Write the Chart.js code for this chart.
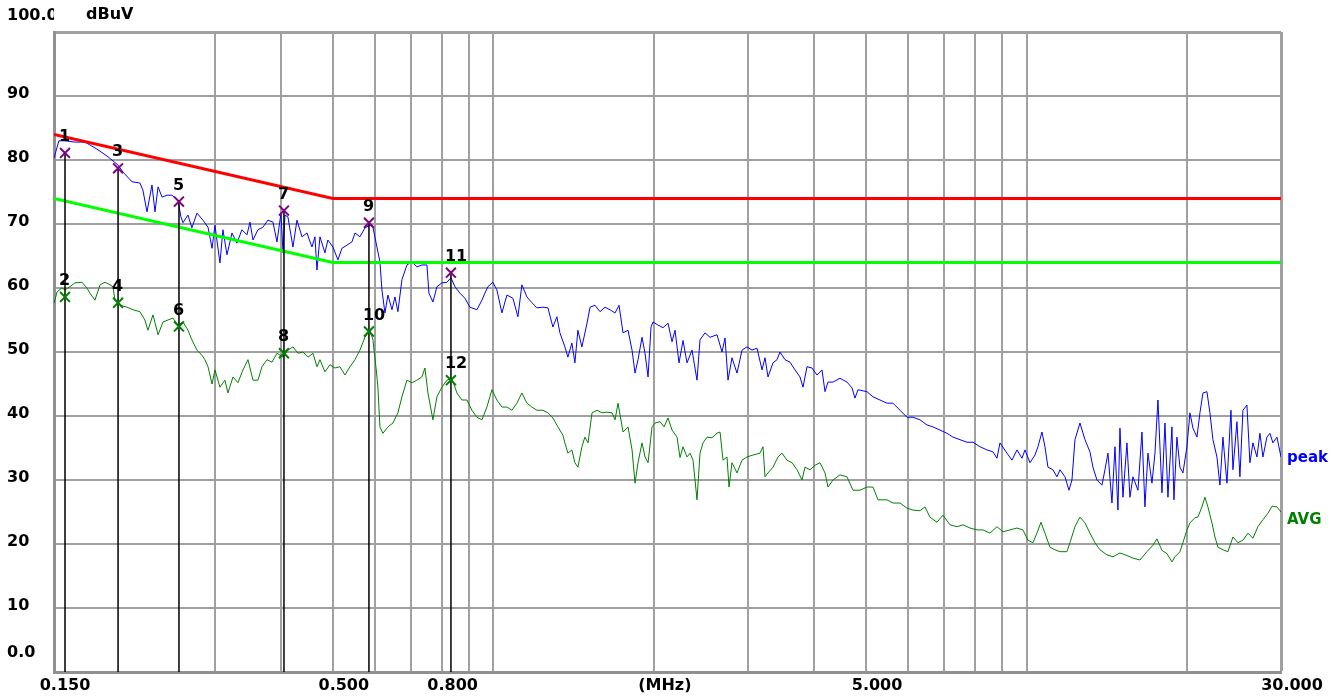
<!DOCTYPE html>
<html>
<head>
<meta charset="utf-8">
<title>Conducted emission 0.15 - 30 MHz</title>
<script src="https://cdn.jsdelivr.net/npm/chart.js@4.4.1/dist/chart.umd.min.js"></script>
<style>
  html, body { margin: 0; padding: 0; background: #ffffff; }
  #wrap { width: 1344px; height: 697px; position: relative; }
</style>
</head>
<body>
<div id="wrap"><canvas id="emiChart"></canvas></div>
<script>
// axis ticks
const xTickValues = [0.15, 0.3, 0.4, 0.5, 0.6, 0.7, 0.8, 0.9, 1, 2, 3, 4, 5, 6, 7, 8, 9, 10, 20, 30];
const xTickLabels = ['0.150', '', '', '0.500', '', '', '0.800', '', '', '(MHz)', '', '', '5.000', '', '', '', '', '', '', '30.000'];
const yTickLabels = ['0.0', '10', '20', '30', '40', '50', '60', '70', '80', '90', '100.0'];
const unitLabel = 'dBuV';

// limit lines (MHz / dBuV)
const limitFreq = [0.15, 0.5, 30];
const qpLimit = [84, 74, 74];
const avLimit = [74, 64, 64];

// peak detector trace
const peakFreq = [
  0.150, 0.1532, 0.1573, 0.1642, 0.1715, 0.1806, 0.1894, 0.1978, 0.2021, 0.2101,
  0.2174, 0.2202, 0.2241, 0.2290, 0.2320, 0.2351, 0.2392, 0.2443, 0.2496, 0.2562,
  0.2595, 0.2618, 0.2675, 0.2721, 0.2781, 0.2854, 0.2917, 0.2968, 0.3006, 0.3071,
  0.3111, 0.3166, 0.3235, 0.3305, 0.3377, 0.3451, 0.3496, 0.3542, 0.3619, 0.3698,
  0.3778, 0.3861, 0.3929, 0.3997, 0.4032, 0.4067, 0.4119, 0.4209, 0.4283, 0.4377,
  0.4472, 0.4569, 0.4629, 0.4669, 0.4730, 0.4833, 0.4895, 0.5002, 0.5112, 0.5201,
  0.5315, 0.5431, 0.5502, 0.5621, 0.5744, 0.5869, 0.5946, 0.6049, 0.6128, 0.6181,
  0.6262, 0.6344, 0.6455, 0.6539, 0.6623, 0.6739, 0.6886, 0.7037, 0.7189, 0.7346,
  0.7507, 0.7572, 0.7704, 0.7838, 0.8009, 0.8184, 0.8327, 0.8472, 0.8656, 0.8845,
  0.9038, 0.9315, 0.9519, 0.9643, 0.9768, 0.9981, 1.0155, 1.0377, 1.0604, 1.0882,
  1.1119, 1.1313, 1.1560, 1.1813, 1.2070, 1.2387, 1.2657, 1.2933, 1.3158, 1.3330,
  1.3621, 1.3798, 1.4039, 1.4222, 1.4407, 1.4658, 1.4986, 1.5182, 1.5513, 1.5852,
  1.6198, 1.6552, 1.6913, 1.7208, 1.7507, 1.7889, 1.8201, 1.8438, 1.8678, 1.9004,
  1.9251, 1.9503, 1.9757, 1.9929, 2.0363, 2.0808, 2.1261, 2.1632, 2.1914, 2.2295,
  2.2684, 2.3079, 2.3583, 2.4096, 2.4411, 2.4944, 2.5488, 2.6270, 2.6844, 2.7194,
  2.7548, 2.8028, 2.8639, 2.9265, 2.9903, 3.0556, 3.1222, 3.1905, 3.2320, 3.2741,
  3.3456, 3.4038, 3.4482, 3.5235, 3.6003, 3.6789, 3.7592, 3.8082, 3.8745, 3.9592,
  4.0454, 4.1338, 4.1877, 4.2422, 4.3348, 4.4678, 4.6048, 4.7054, 4.7667, 4.8289,
  5.0201, 5.1520, 5.3100, 5.4728, 5.6166, 5.7889, 5.9664, 6.1231, 6.3110, 6.5045,
  6.6753, 6.8802, 7.0911, 7.2774, 7.5007, 7.7307, 7.9337, 8.1771, 8.4278, 8.6492,
  8.7997, 8.9146, 9.1879, 9.3887, 9.5932, 9.8029, 9.9307, 10.147, 10.369, 10.504,
  10.687, 10.826, 10.967, 11.206, 11.402, 11.551, 11.803, 12.008, 12.165, 12.323,
  12.592, 12.867, 13.148, 13.319, 13.551, 13.847, 14.028, 14.211, 14.458, 14.647,
  14.837, 14.966, 15.161, 15.425, 15.626, 15.830, 16.176, 16.458, 16.672, 16.889,
  17.184, 17.408, 17.634, 17.941, 18.175, 18.412, 18.733, 18.896, 19.141, 19.391,
  19.644, 19.986, 20.247, 20.511, 20.868, 21.140, 21.416, 21.788, 22.073, 22.361,
  22.750, 23.047, 23.348, 23.754, 24.168, 24.378, 24.801, 25.125, 25.453, 25.896,
  26.234, 26.576, 27.038, 27.391, 27.748, 28.231, 28.600, 28.973, 29.477, 30.0
];
const peakLevel = [
  80.3, 83.0, 83.0, 82.8, 82.8, 81.7, 80.5, 79.2, 78.1, 76.6,
  76.4, 75.3, 71.9, 76.1, 71.9, 75.8, 74.2, 74.5, 74.5, 73.7,
  71.1, 70.2, 71.4, 69.4, 71.7, 70.6, 69.5, 66.2, 69.8, 63.9,
  69.1, 65.2, 68.6, 67.0, 69.1, 68.3, 70.3, 67.5, 69.1, 69.5,
  70.6, 70.3, 67.2, 71.7, 65.5, 71.4, 71.1, 66.4, 70.6, 68.0,
  68.6, 66.4, 68.0, 62.8, 68.0, 65.5, 67.5, 66.4, 64.4, 66.2,
  66.7, 67.2, 68.6, 68.0, 69.4, 69.8, 69.5, 66.4, 64.1, 59.7,
  56.1, 58.9, 56.6, 58.6, 56.3, 61.3, 63.6, 64.1, 63.3, 63.6,
  63.6, 59.2, 57.8, 60.2, 60.8, 60.9, 61.6, 60.2, 59.2, 58.4,
  57.0, 56.6, 58.1, 59.2, 60.2, 60.9, 59.7, 56.1, 58.9, 58.4,
  55.5, 60.5, 58.6, 57.7, 56.9, 57.0, 56.9, 53.9, 55.5, 53.0,
  50.8, 49.2, 51.4, 48.3, 53.4, 50.8, 54.5, 57.0, 57.3, 56.3,
  57.0, 56.6, 56.1, 57.3, 53.0, 53.4, 50.3, 46.7, 48.8, 52.3,
  49.8, 46.1, 53.9, 54.7, 54.2, 53.8, 54.5, 51.6, 53.4, 48.3,
  51.8, 48.3, 50.3, 45.6, 51.9, 53.0, 52.3, 52.7, 50.0, 52.2,
  45.6, 49.1, 46.7, 50.3, 50.8, 50.3, 50.6, 47.2, 49.1, 46.1,
  48.3, 48.8, 50.0, 48.8, 48.4, 47.2, 46.1, 44.5, 47.7, 47.5,
  46.4, 47.2, 43.8, 45.3, 45.3, 45.9, 45.3, 44.4, 42.8, 44.1,
  43.8, 43.0, 42.5, 42.0, 42.0, 40.9, 39.8, 39.8, 39.4, 38.6,
  38.3, 37.8, 37.3, 36.7, 36.3, 35.9, 35.9, 35.2, 34.7, 34.4,
  33.4, 35.8, 34.2, 33.1, 34.7, 33.4, 34.7, 32.7, 33.9, 35.2,
  37.5, 35.2, 32.0, 31.6, 30.5, 31.6, 30.5, 28.4, 30.0, 36.3,
  38.9, 36.3, 34.4, 32.0, 30.0, 29.2, 31.6, 34.2, 26.4, 35.2,
  25.3, 38.1, 27.3, 35.8, 27.3, 30.5, 28.4, 37.5, 25.8, 34.2,
  29.5, 34.2, 42.5, 28.0, 38.9, 27.3, 38.3, 26.9, 36.7, 32.0,
  31.1, 35.2, 40.5, 38.1, 36.7, 40.5, 43.6, 43.8, 40.5, 36.3,
  33.6, 29.2, 36.7, 29.5, 40.9, 31.6, 39.1, 30.5, 40.9, 41.7,
  32.7, 35.8, 33.6, 37.3, 33.6, 36.7, 37.3, 35.8, 36.7, 33.6
];

// average detector trace
const avgFreq = [
  0.150, 0.1520, 0.1552, 0.1573, 0.1607, 0.1642, 0.1693, 0.1729, 0.1752, 0.1790,
  0.1830, 0.1870, 0.1910, 0.1935, 0.1952, 0.1995, 0.2056, 0.2110, 0.2174, 0.2221,
  0.2250, 0.2300, 0.2351, 0.2402, 0.2454, 0.2507, 0.2562, 0.2618, 0.2675, 0.2721,
  0.2781, 0.2841, 0.2878, 0.2917, 0.2968, 0.3006, 0.3071, 0.3138, 0.3179, 0.3249,
  0.3319, 0.3392, 0.3466, 0.3542, 0.3619, 0.3682, 0.3762, 0.3844, 0.3929, 0.4032,
  0.4119, 0.4209, 0.4302, 0.4396, 0.4491, 0.4589, 0.4669, 0.4730, 0.4833, 0.4938,
  0.5046, 0.5156, 0.5269, 0.5384, 0.5502, 0.5621, 0.5744, 0.5869, 0.5946, 0.6023,
  0.6075, 0.6128, 0.6208, 0.6344, 0.6482, 0.6623, 0.6739, 0.6886, 0.7037, 0.7189,
  0.7346, 0.7442, 0.7540, 0.7704, 0.7838, 0.8009, 0.8184, 0.8363, 0.8544, 0.8731,
  0.8921, 0.9116, 0.9315, 0.9519, 0.9726, 0.9939, 1.0155, 1.0377, 1.0604, 1.0835,
  1.1071, 1.1313, 1.1560, 1.1813, 1.2070, 1.2387, 1.2657, 1.2933, 1.3215, 1.3504,
  1.3621, 1.3798, 1.4039, 1.4222, 1.4407, 1.4658, 1.4849, 1.5051, 1.5314, 1.5648,
  1.5990, 1.6339, 1.6696, 1.6913, 1.7133, 1.7507, 1.7889, 1.8201, 1.8438, 1.8678,
  1.9004, 1.9251, 1.9503, 1.9843, 2.0101, 2.0540, 2.0898, 2.1261, 2.1632, 2.2103,
  2.2392, 2.2684, 2.3079, 2.3380, 2.3685, 2.4096, 2.4411, 2.4729, 2.5159, 2.5709,
  2.6270, 2.6613, 2.6960, 2.7429, 2.7667, 2.8028, 2.8639, 2.9265, 2.9903, 3.0688,
  3.1630, 3.2042, 3.2320, 3.2741, 3.3456, 3.4185, 3.4781, 3.5539, 3.6316, 3.7107,
  3.7918, 3.8413, 3.9251, 4.0108, 4.0982, 4.1877, 4.2422, 4.3348, 4.4678, 4.6048,
  4.7257, 4.8708, 5.0201, 5.1520, 5.2643, 5.4728, 5.6166, 5.7889, 5.9664, 6.1231,
  6.3110, 6.4488, 6.5894, 6.7915, 6.9699, 7.1837, 7.4040, 7.5985, 7.8316, 8.0717,
  8.2837, 8.5379, 8.7997, 9.0308, 9.3079, 9.5932, 9.8452, 10.060, 10.279, 10.458,
  10.641, 10.826, 11.062, 11.304, 11.551, 11.905, 12.060, 12.323, 12.592, 12.867,
  13.148, 13.435, 13.728, 14.149, 14.521, 14.966, 15.425, 15.830, 16.316, 16.816,
  17.258, 17.558, 17.941, 18.333, 18.733, 18.977, 19.391, 19.644, 19.986, 20.247,
  20.689, 20.958, 21.323, 21.601, 21.883, 22.265, 22.555, 22.849, 23.348, 23.857,
  24.378, 24.909, 25.453, 26.008, 26.576, 27.155, 27.748, 28.354, 28.848, 29.477,
  30.0
];
const avgLevel = [
  57.6, 59.4, 60.0, 59.7, 60.2, 60.8, 60.9, 60.0, 59.2, 58.1,
  60.5, 60.9, 60.5, 60.2, 58.1, 57.3, 57.0, 56.6, 56.3, 55.0,
  53.4, 55.8, 52.7, 54.7, 55.0, 55.3, 54.2, 54.7, 53.4, 51.9,
  50.3, 49.5, 48.8, 47.7, 45.0, 47.2, 44.5, 45.6, 43.6, 46.1,
  45.2, 47.2, 48.8, 45.6, 45.6, 47.7, 48.8, 48.4, 49.8, 49.2,
  50.3, 50.8, 49.8, 50.0, 49.2, 49.8, 47.7, 48.8, 46.9, 48.0,
  47.5, 47.7, 46.4, 47.7, 48.8, 50.3, 52.3, 53.4, 51.9, 47.7,
  44.5, 38.3, 37.3, 38.3, 38.9, 40.5, 43.0, 45.6, 45.2, 45.6,
  46.1, 47.5, 43.6, 39.4, 43.0, 44.5, 45.6, 45.9, 43.6, 42.5,
  42.5, 40.9, 39.8, 39.4, 41.4, 44.1, 42.5, 41.4, 41.4, 40.9,
  42.0, 43.6, 42.0, 41.4, 40.9, 40.9, 40.5, 39.7, 38.3, 37.0,
  35.8, 34.2, 34.7, 32.7, 32.0, 35.2, 36.7, 35.8, 40.5, 40.9,
  40.5, 40.6, 40.5, 39.4, 42.0, 37.5, 38.3, 34.7, 29.5, 32.7,
  35.8, 33.6, 32.7, 38.3, 38.9, 39.1, 38.3, 39.7, 37.8, 36.7,
  33.5, 35.2, 33.6, 34.2, 33.1, 26.9, 34.2, 35.8, 36.7, 36.6,
  37.3, 37.5, 33.1, 33.6, 28.9, 32.7, 31.1, 33.1, 33.6, 33.9,
  34.2, 35.2, 30.5, 31.1, 32.0, 33.6, 34.2, 33.1, 32.7, 31.6,
  30.0, 32.0, 31.6, 32.3, 32.7, 31.1, 28.9, 30.0, 30.8, 30.5,
  28.4, 28.4, 28.9, 28.9, 26.9, 26.9, 26.4, 26.4, 25.6, 25.3,
  25.2, 25.8, 24.2, 23.4, 24.5, 23.0, 22.7, 23.0, 22.5, 22.2,
  22.2, 21.7, 22.7, 21.9, 22.2, 22.5, 22.2, 20.6, 20.2, 21.7,
  23.4, 21.7, 19.5, 19.1, 18.8, 18.8, 20.2, 22.7, 24.2, 23.3,
  21.7, 20.2, 19.1, 18.3, 18.0, 18.6, 18.2, 17.8, 17.5, 18.8,
  19.8, 20.8, 19.0, 18.5, 17.2, 18.0, 18.8, 20.2, 22.2, 23.3,
  24.1, 24.2, 25.8, 27.3, 25.8, 23.3, 21.1, 19.5, 19.1, 18.8,
  21.1, 20.2, 20.6, 21.7, 20.9, 22.7, 23.8, 24.8, 25.9, 25.8,
  25.0
];

// marker table: 1,3,5,... on peak, 2,4,6,... on average
const markerFreq = [0.1573, 0.1978, 0.2573, 0.4049, 0.5844, 0.8327];
const markerPeak = [81.1, 78.7, 73.5, 72.1, 70.2, 62.4];
const markerAvg = [58.6, 57.7, 54.0, 49.8, 53.2, 45.6];

// where the trace names sit on the right edge
const peakLabelAt = 33.4;
const avgLabelAt = 23.8;

const toPoints = (xs, ys) => xs.map((f, i) => ({ x: f, y: ys[i] }));

const dropLines = [];
markerFreq.forEach((f, i) => {
    dropLines.push({ x: f, y: markerPeak[i] }, { x: f, y: 0 }, { x: f, y: null });
});

const labelFont = 'bold 15px "DejaVu Sans"';

const emiText = {
    id: 'emiText',
    afterDatasetsDraw(chart) {
        const { ctx, scales: { x, y } } = chart;
        ctx.save();
        ctx.textAlign = 'left';
        ctx.textBaseline = 'middle';
        ctx.font = 'bold 16px "DejaVu Sans"';
        ctx.fillStyle = '#000000';
        markerFreq.forEach((f, i) => {
            const px = x.getPixelForValue(f) - 6;
            ctx.fillText(String(2 * i + 1), px, y.getPixelForValue(markerPeak[i]) - 16);
            ctx.fillText(String(2 * i + 2), px, y.getPixelForValue(markerAvg[i]) - 16);
        });
        ctx.fillText(unitLabel, 86, 15);
        ctx.font = labelFont;
        ctx.fillStyle = '#0000ff';
        ctx.fillText('peak', x.right + 6, y.getPixelForValue(peakLabelAt));
        ctx.fillStyle = '#008000';
        ctx.fillText('AVG', x.right + 6, y.getPixelForValue(avgLabelAt));
        ctx.restore();
    }
};

Chart.defaults.font.family = '"DejaVu Sans", sans-serif';

new Chart(document.getElementById('emiChart').getContext('2d'), {
    type: 'line',
    data: {
        datasets: [
            {
                label: 'peak markers',
                data: toPoints(markerFreq, markerPeak),
                showLine: false,
                pointStyle: 'crossRot',
                pointRadius: 7,
                pointBorderWidth: 2,
                pointBorderColor: '#800080',
                pointBackgroundColor: '#800080'
            },
            {
                label: 'avg markers',
                data: toPoints(markerFreq, markerAvg),
                showLine: false,
                pointStyle: 'crossRot',
                pointRadius: 7,
                pointBorderWidth: 2,
                pointBorderColor: '#008000',
                pointBackgroundColor: '#008000'
            },
            {
                label: 'marker lines',
                data: dropLines,
                borderColor: '#000000',
                borderWidth: 1.5,
                pointRadius: 0,
                spanGaps: false
            },
            {
                label: 'QP limit',
                data: toPoints(limitFreq, qpLimit),
                borderColor: '#ff0000',
                borderWidth: 3,
                pointRadius: 0
            },
            {
                label: 'AV limit',
                data: toPoints(limitFreq, avLimit),
                borderColor: '#00ff00',
                borderWidth: 3,
                pointRadius: 0
            },
            {
                label: 'peak',
                data: toPoints(peakFreq, peakLevel),
                borderColor: '#0000ff',
                borderWidth: 1,
                pointRadius: 0
            },
            {
                label: 'AVG',
                data: toPoints(avgFreq, avgLevel),
                borderColor: '#008000',
                borderWidth: 1,
                pointRadius: 0
            }
        ]
    },
    options: {
        responsive: true,
        maintainAspectRatio: false,
        animation: false,
        events: [],
        layout: { padding: { left: 7, top: 32, right: 63, bottom: 0 } },
        plugins: {
            legend: { display: false },
            tooltip: { enabled: false }
        },
        scales: {
            x: {
                type: 'logarithmic',
                min: 0.15,
                max: 30,
                afterBuildTicks: (scale) => {
                    scale.ticks = xTickValues.map(v => ({ value: v }));
                },
                afterFit: (scale) => {
                    scale.height = 25;
                    scale.paddingLeft = 0;
                    scale.paddingRight = 0;
                },
                ticks: {
                    autoSkip: false,
                    maxRotation: 0,
                    minRotation: 0,
                    padding: 4,
                    labelOffset: 11,
                    color: '#000000',
                    font: { size: 16, weight: 'bold' },
                    callback: (value, index) => xTickLabels[index]
                },
                grid: {
                    color: '#a0a0a0',
                    lineWidth: (ctx) => (ctx.tick && ctx.tick.value === 30 ? 3 : 2),
                    drawTicks: false
                },
                border: { color: '#909090', width: 3 }
            },
            y: {
                min: 0,
                max: 100,
                afterFit: (scale) => {
                    scale.width = 47;
                    scale.paddingTop = 0;
                    scale.paddingBottom = 0;
                },
                ticks: {
                    stepSize: 10,
                    autoSkip: false,
                    crossAlign: 'far',
                    labelOffset: -2,
                    color: '#000000',
                    font: (ctx) => {
                        const v = ctx.tick ? ctx.tick.value : 50;
                        return { size: 16, weight: 'bold', lineHeight: v === 100 ? 1.75 : (v === 0 ? 2.125 : 1.2) };
                    },
                    callback: (value) => {
                        const lab = yTickLabels[Math.round(value / 10)];
                        return (value === 0 || value === 100) ? [lab, ''] : lab;
                    }
                },
                grid: {
                    color: '#a0a0a0',
                    lineWidth: (ctx) => (ctx.tick && ctx.tick.value === 100 ? 3 : 2),
                    drawTicks: false
                },
                border: { color: '#909090', width: 3 }
            }
        }
    },
    plugins: [emiText]
});
</script>
</body>
</html>
